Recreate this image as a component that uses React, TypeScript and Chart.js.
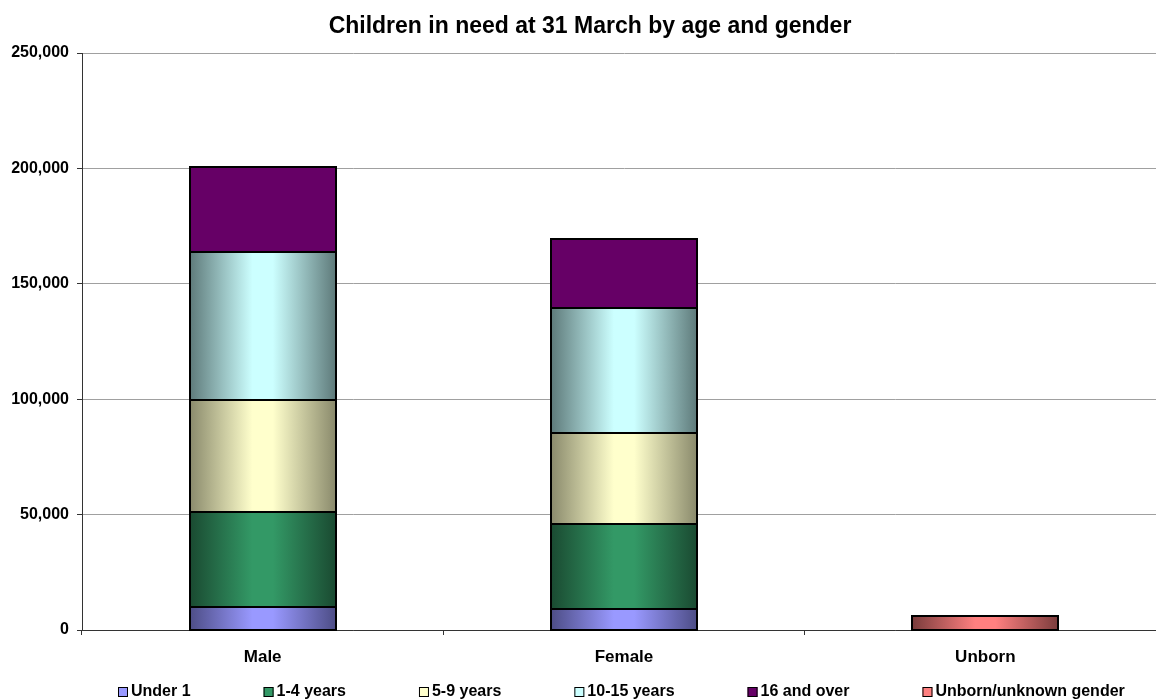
import { useEffect, useRef } from "react";
import { Chart, registerables } from "chart.js";

Chart.register(...registerables);

// ---- data ----
const categories = ["Male", "Female", "Unborn"];
const seriesNames = [
  "Under 1",
  "1-4 years",
  "5-9 years",
  "10-15 years",
  "16 and over",
  "Unborn/unknown gender",
];
const under1 = [9800, 9000, null];
const years1to4 = [41200, 36900, null];
const years5to9 = [48500, 39500, null];
const years10to15 = [64400, 54200, null];
const over16 = [36800, 29800, null];
const unbornUnknown = [null, null, 6200];
const yTickValues = [0, 50000, 100000, 150000, 200000, 250000];
const chartTitle = "Children in need at 31 March by age and gender";

// ---- styling ----
const FONT = "'Liberation Sans', Arial, Helvetica, sans-serif";
const BAR_PCT = 0.404;
const seriesColours = [
  { light: "#9999ff", dark: "#4d4d86" },
  { light: "#339966", dark: "#1a4a31" },
  { light: "#ffffcc", dark: "#8a8a6c" },
  { light: "#ccffff", dark: "#5e7a7a" },
  { light: "#660066", dark: "#660066" },
  { light: "#ff8080", dark: "#7a3c3c" },
];

const seriesValues = [under1, years1to4, years5to9, years10to15, over16, unbornUnknown];

function shadedFill(index: number) {
  const c = seriesColours[index];
  return (ctx: any) => {
    const chart = ctx.chart;
    const xs = chart.scales && chart.scales.x;
    if (!xs || !chart.chartArea || ctx.dataIndex === undefined) return c.light;
    if (c.light === c.dark) return c.light;
    const cx = xs.getPixelForValue(ctx.dataIndex);
    const half = ((xs.width / categories.length) * BAR_PCT) / 2;
    const g = chart.ctx.createLinearGradient(cx - half, 0, cx + half, 0);
    g.addColorStop(0, c.dark);
    g.addColorStop(0.43, c.light);
    g.addColorStop(0.57, c.light);
    g.addColorStop(1, c.dark);
    return g;
  };
}

// crisp black outline round every stacked segment
const outlinePlugin = {
  id: "segmentOutline",
  afterDatasetsDraw(chart: any) {
    const ctx = chart.ctx;
    ctx.save();
    ctx.strokeStyle = "#000";
    ctx.lineWidth = 2;
    chart.data.datasets.forEach((ds: any, di: number) => {
      const meta = chart.getDatasetMeta(di);
      meta.data.forEach((bar: any, i: number) => {
        if (ds.data[i] === null || ds.data[i] === undefined) return;
        const left = Math.round(bar.x - bar.width / 2);
        const right = Math.round(bar.x + bar.width / 2);
        const top = Math.round(bar.y);
        const bottom = Math.round(bar.base);
        ctx.strokeRect(left, top, right - left, bottom - top);
      });
    });
    ctx.restore();
  },
};

const titlePlugin = {
  id: "chartTitleText",
  afterDraw(chart: any) {
    const ctx = chart.ctx;
    ctx.save();
    ctx.font = `bold 23px ${FONT}`;
    ctx.fillStyle = "#000";
    ctx.textAlign = "center";
    ctx.textBaseline = "middle";
    ctx.fillText(chartTitle, 590, 27);
    ctx.restore();
  },
};

const legendPlugin = {
  id: "bottomLegend",
  afterDraw(chart: any) {
    const ctx = chart.ctx;
    ctx.save();
    ctx.font = `bold 16px ${FONT}`;
    ctx.textBaseline = "middle";
    ctx.textAlign = "left";
    const y = 692;
    const box = 10;
    let x = 118;
    seriesNames.forEach((name, i) => {
      ctx.fillStyle = seriesColours[i].light;
      ctx.fillRect(x, y - box / 2, box, box);
      ctx.strokeStyle = "#000";
      ctx.lineWidth = 1;
      ctx.strokeRect(x + 0.5, y - box / 2 + 0.5, box - 1, box - 1);
      ctx.fillStyle = "#000";
      ctx.fillText(name, x + 13, y);
      x += 13 + ctx.measureText(name).width + 73;
    });
    ctx.restore();
  },
};

export default function App() {
  const canvasRef = useRef<HTMLCanvasElement | null>(null);

  useEffect(() => {
    if (!canvasRef.current) return;
    const chart = new Chart(canvasRef.current, {
      type: "bar",
      data: {
        labels: categories,
        datasets: seriesValues.map((values, i) => ({
          label: seriesNames[i],
          data: values,
          backgroundColor: shadedFill(i),
          borderWidth: 0,
          barPercentage: BAR_PCT,
          categoryPercentage: 1,
        })),
      },
      options: {
        responsive: false,
        animation: false,
        devicePixelRatio: 1,
        layout: { padding: { left: 0, right: 14, top: 53, bottom: 0 } },
        plugins: {
          legend: { display: false },
          title: { display: false },
          tooltip: { enabled: false },
        },
        scales: {
          x: {
            stacked: true,
            afterFit: (s: any) => {
              s.height = 70;
            },
            grid: {
              drawOnChartArea: false,
              drawTicks: true,
              tickLength: 5,
              tickColor: "#333",
            },
            border: { display: true, color: "#333", width: 1 },
            ticks: {
              color: "#000",
              font: { family: FONT, size: 17, weight: "bold" },
              padding: 12,
              maxRotation: 0,
            },
          },
          y: {
            stacked: true,
            min: 0,
            max: 250000,
            afterFit: (s: any) => {
              s.width = 82;
            },
            afterBuildTicks: (s: any) => {
              s.ticks = yTickValues.map((v) => ({ value: v }));
            },
            grid: {
              color: "#a0a0a0",
              lineWidth: 1,
              tickLength: 5,
              tickColor: "#333",
            },
            border: { display: true, color: "#333", width: 1 },
            ticks: {
              color: "#000",
              font: { family: FONT, size: 16, weight: "bold" },
              padding: 8,
              callback: (v: any) => Number(v).toLocaleString("en-US"),
            },
          },
        },
      },
      plugins: [outlinePlugin, titlePlugin, legendPlugin],
    });
    return () => chart.destroy();
  }, []);

  return (
    <div
      style={{
        position: "fixed",
        left: 0,
        top: 0,
        width: 1156,
        height: 700,
        overflow: "hidden",
        background: "#fff",
      }}
    >
      <canvas ref={canvasRef} width={1180} height={700} style={{ display: "block" }} />
    </div>
  );
}
